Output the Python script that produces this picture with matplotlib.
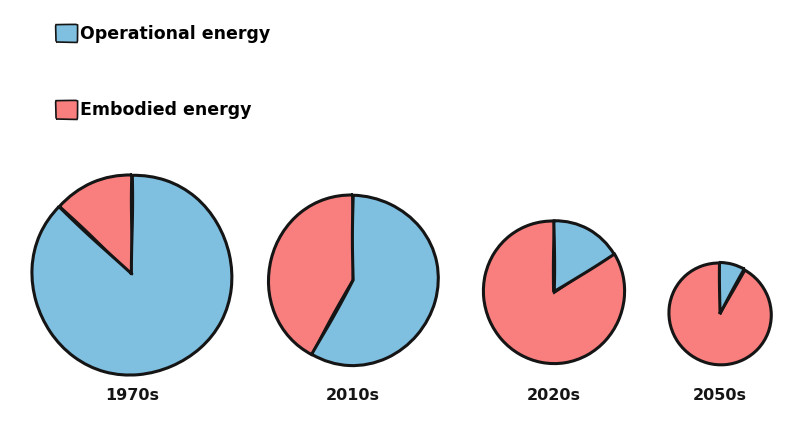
import matplotlib
matplotlib.use('Agg')
import matplotlib.pyplot as plt
from matplotlib.patches import Patch

# data (shares in %, pie size relative to 1970s)
decades = ['1970s', '2010s', '2020s', '2050s']
embodied = [13, 42, 84, 92]
operational = [87, 58, 16, 8]
relative_total = [1.0, 0.85, 0.71, 0.51]
series_names = ['Operational energy', 'Embodied energy']

blue = '#7fbfe0'
red = '#f97e7e'
ink = '#151515'

# layout in pixels (y measured from top)
W, H = 800, 446
centers = [(132, 275), (353, 280), (554, 292), (720, 314)]
max_radius = 100
label_y = 395

with plt.xkcd(scale=0.6, length=150, randomness=1.5):
    plt.rcParams['font.family'] = ['DejaVu Sans']
    plt.rcParams['path.effects'] = []
    fig = plt.figure(figsize=(W / 100, H / 100), dpi=100)
    ax = fig.add_axes([0, 0, 1, 1])

    for i in range(len(decades)):
        cx, cy = centers[i]
        ax.pie([embodied[i], operational[i]], colors=[red, blue],
               startangle=90, counterclock=True,
               center=(cx, H - cy), radius=max_radius * relative_total[i],
               wedgeprops=dict(edgecolor=ink, linewidth=2.2))
        ax.text(cx, H - label_y, decades[i], ha='center', va='center',
                fontsize=11.5, fontweight='bold', color=ink)

    handles = [Patch(facecolor=blue, edgecolor=ink, linewidth=1.2),
               Patch(facecolor=red, edgecolor=ink, linewidth=1.2)]
    ax.legend(handles, series_names, loc='upper left',
              bbox_to_anchor=(47 / W, 1 - 16 / H), frameon=False,
              prop=dict(size=12.5, weight='bold'),
              handlelength=1.2, handleheight=1.2,
              handletextpad=0.2, labelspacing=3.3, borderpad=0)

    ax.set_xlim(0, W)
    ax.set_ylim(0, H)
    ax.set_aspect('equal')
    ax.axis('off')

    fig.savefig('out.png', dpi=100, facecolor='white')
